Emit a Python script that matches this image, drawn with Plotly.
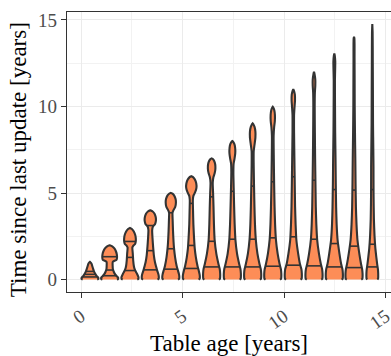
import numpy as np
import plotly.graph_objects as go

# ---- data ----
positions = [0.44, 1.41, 2.41, 3.41, 4.42, 5.43, 6.43, 7.45, 8.45, 9.44,
             10.45, 11.47, 12.47, 13.44, 14.34]
half_widths = [0.42] * 14 + [0.29]

# violin density profiles: y (years) and relative half-width (0..1)
profile_y = [
    [0, 0.03, 0.1, 0.2, 0.35, 0.5, 0.65, 0.8, 0.92, 0.99, 1.02],
    [0, 0.03, 0.1, 0.2, 0.3, 0.45, 0.6, 0.8, 1.02, 1.08, 1.14, 1.25, 1.45, 1.65, 1.8, 1.92, 1.98],
    [0, 0.04, 0.12, 0.25, 0.4, 0.6, 0.8, 1.1, 1.5, 1.85, 1.95, 2.05, 2.2, 2.4, 2.6, 2.78, 2.92, 2.98],
    [0, 0.05, 0.15, 0.3, 0.5, 0.75, 1.0, 1.4, 1.9, 2.4, 2.85, 3.05, 3.2, 3.4, 3.6, 3.8, 3.93, 4.0],
    [0, 0.05, 0.15, 0.3, 0.5, 0.8, 1.3, 1.8, 2.2, 2.8, 3.4, 3.85, 4.0, 4.2, 4.45, 4.65, 4.85, 4.96, 5.01],
    [0, 0.05, 0.15, 0.3, 0.5, 0.8, 1.3, 1.8, 2.4, 3.2, 4.0, 4.6, 4.85, 5.05, 5.3, 5.55, 5.78, 5.92, 5.97],
    [0, 0.05, 0.15, 0.35, 0.6, 0.9, 1.5, 2.3, 3.2, 4.2, 5.0, 5.6, 5.9, 6.15, 6.4, 6.65, 6.85, 6.96, 7.0],
    [0, 0.05, 0.15, 0.35, 0.6, 0.9, 1.5, 2.3, 3.2, 4.2, 5.2, 6.2, 6.7, 7.0, 7.3, 7.6, 7.82, 7.95, 8.0],
    [0, 0.05, 0.15, 0.35, 0.6, 0.9, 1.5, 2.3, 3.2, 4.2, 5.4, 6.6, 7.4, 7.8, 8.2, 8.55, 8.82, 8.97, 9.02],
    [0, 0.05, 0.15, 0.35, 0.6, 0.9, 1.5, 2.3, 3.2, 4.2, 5.5, 7.0, 8.3, 8.8, 9.15, 9.5, 9.78, 9.93, 9.98],
    [0, 0.05, 0.15, 0.35, 0.6, 0.9, 1.5, 2.3, 3.2, 4.2, 5.5, 7.0, 8.5, 9.5, 10.0, 10.35, 10.7, 10.92, 11.0],
    [0, 0.05, 0.15, 0.35, 0.6, 0.9, 1.5, 2.3, 3.2, 4.2, 5.5, 7.0, 8.5, 10.0, 10.8, 11.2, 11.55, 11.88, 12.0],
    [0, 0.05, 0.15, 0.35, 0.6, 0.9, 1.5, 2.3, 3.2, 4.2, 5.5, 7.0, 8.5, 10.0, 11.5, 12.2, 12.6, 12.95, 13.07],
    [0, 0.05, 0.15, 0.35, 0.6, 0.9, 1.5, 2.3, 3.2, 4.2, 5.5, 7.0, 8.5, 10.0, 11.5, 12.8, 13.6, 13.95, 14.03],
    [0, 0.05, 0.15, 0.35, 0.6, 0.9, 1.3, 1.8, 2.5, 3.5, 5, 6.5, 7.5, 9, 11, 12.5, 13.5, 14.3, 14.77],
]
profile_w = [
    [0.85, 0.98, 0.98, 0.8, 0.6, 0.45, 0.35, 0.26, 0.18, 0.08, 0],
    [0.85, 0.98, 1.0, 0.82, 0.65, 0.48, 0.38, 0.35, 0.36, 0.55, 0.8, 0.86, 0.84, 0.72, 0.55, 0.3, 0],
    [0.85, 0.98, 1.0, 0.9, 0.75, 0.55, 0.45, 0.38, 0.33, 0.28, 0.38, 0.6, 0.68, 0.68, 0.6, 0.45, 0.22, 0],
    [0.85, 0.98, 1.0, 0.95, 0.82, 0.68, 0.55, 0.42, 0.33, 0.26, 0.22, 0.3, 0.55, 0.66, 0.64, 0.5, 0.28, 0],
    [0.85, 0.98, 1.0, 0.96, 0.85, 0.68, 0.5, 0.38, 0.32, 0.26, 0.22, 0.2, 0.3, 0.52, 0.6, 0.56, 0.4, 0.2, 0],
    [0.85, 0.98, 1.0, 0.97, 0.88, 0.72, 0.53, 0.4, 0.32, 0.24, 0.2, 0.18, 0.25, 0.45, 0.6, 0.58, 0.42, 0.2, 0],
    [0.85, 0.98, 1.0, 1.0, 0.95, 0.8, 0.55, 0.35, 0.27, 0.22, 0.17, 0.13, 0.2, 0.36, 0.44, 0.42, 0.3, 0.14, 0],
    [0.85, 0.98, 1.0, 1.0, 0.95, 0.8, 0.55, 0.36, 0.27, 0.21, 0.16, 0.12, 0.15, 0.26, 0.34, 0.33, 0.24, 0.1, 0],
    [0.85, 0.98, 1.0, 1.0, 0.95, 0.8, 0.56, 0.37, 0.27, 0.21, 0.16, 0.12, 0.12, 0.22, 0.32, 0.32, 0.22, 0.08, 0],
    [0.85, 0.98, 1.0, 1.0, 0.95, 0.8, 0.57, 0.37, 0.27, 0.21, 0.16, 0.12, 0.1, 0.16, 0.24, 0.25, 0.18, 0.07, 0],
    [0.85, 0.98, 1.0, 1.0, 0.95, 0.78, 0.57, 0.36, 0.27, 0.21, 0.17, 0.13, 0.09, 0.09, 0.15, 0.2, 0.18, 0.07, 0],
    [0.85, 0.98, 1.0, 1.0, 0.95, 0.8, 0.58, 0.37, 0.27, 0.21, 0.17, 0.13, 0.1, 0.08, 0.1, 0.15, 0.15, 0.06, 0],
    [0.85, 0.98, 1.0, 1.0, 0.95, 0.8, 0.6, 0.38, 0.27, 0.21, 0.17, 0.14, 0.1, 0.08, 0.07, 0.1, 0.11, 0.05, 0],
    [0.85, 0.98, 1.0, 1.0, 0.95, 0.82, 0.62, 0.4, 0.29, 0.22, 0.18, 0.15, 0.11, 0.08, 0.07, 0.06, 0.06, 0.04, 0],
    [0.85, 0.98, 1.0, 1.0, 0.95, 0.82, 0.68, 0.52, 0.38, 0.27, 0.21, 0.2, 0.17, 0.12, 0.1, 0.08, 0.07, 0.05, 0],
]
q1 = [0.15, 0.22, 0.52, 0.56, 0.6, 0.64, 0.73, 0.73, 0.73, 0.77, 0.83, 0.79, 0.73, 0.69, 0.73]
median = [0.3, 0.55, 1.28, 1.67, 1.78, 1.97, 2.21, 2.33, 2.33, 2.41, 2.47, 2.33, 2.08, 1.93, 2.04]
q3 = [0.47, 1.32, 2.2, 3.12, 3.86, 4.4, 4.78, 5.1, 5.4, 5.65, 5.94, 5.74, 5.2, 5.17, 5.2]

x_ticks = [0, 5, 10, 15]
y_ticks = [0, 5, 10, 15]
x_title = "Table age [years]"
y_title = "Time since last update [years]"

FILL = "#FD8D57"
EDGE = "#333333"
FONT = "Liberation Serif"

fig = go.Figure()
for i, cx in enumerate(positions):
    ys = np.array(profile_y[i], dtype=float)
    ws = np.array(profile_w[i], dtype=float) * half_widths[i]
    xs = np.concatenate([cx + ws, (cx - ws)[::-1]])
    yy = np.concatenate([ys, ys[::-1]])
    fig.add_trace(go.Scatter(x=xs, y=yy, mode="lines", fill="toself",
                             fillcolor=FILL, line=dict(color=EDGE, width=2.1, shape="spline", smoothing=0.6),
                             hoverinfo="skip", showlegend=False))
    lx, ly = [], []
    for q in (q1[i], median[i], q3[i]):
        hw = np.interp(q, ys, ws)
        lx += [cx - hw, cx + hw, None]
        ly += [q, q, None]
    fig.add_trace(go.Scatter(x=lx, y=ly, mode="lines", line=dict(color=EDGE, width=1.6),
                             hoverinfo="skip", showlegend=False))

axis_common = dict(showgrid=True, gridcolor="#EBEBEB", gridwidth=1, zeroline=False,
                   showline=True, linecolor=EDGE, linewidth=1.2,
                   ticks="outside", ticklen=5, tickcolor=EDGE, tickwidth=1,
                   tickfont=dict(family=FONT, size=19, color="#4D4D4D"),
                   minor=dict(dtick=2.5, showgrid=True, gridcolor="#F2F2F2", gridwidth=0.6, ticklen=0))

fig.update_xaxes(range=[-0.69, 15.26], tickvals=x_ticks, tickangle=-35, mirror=True,
                 ticklabeloverflow="allow",
                 title=dict(text=x_title, font=dict(family=FONT, size=23, color="black"), standoff=14),
                 **axis_common)
fig.update_yaxes(range=[-0.72, 15.46], tickvals=y_ticks, mirror=False, **axis_common)

fig.add_annotation(text=y_title, xref="paper", yref="paper", x=-0.151, y=0.471,
                   xanchor="center", yanchor="middle", textangle=-90, showarrow=False,
                   font=dict(family=FONT, size=23, color="black"))

fig.update_layout(width=391, height=356, margin=dict(l=67, r=0, t=12, b=64, autoexpand=False),
                  plot_bgcolor="white", paper_bgcolor="white")
fig.write_html("out.html")
